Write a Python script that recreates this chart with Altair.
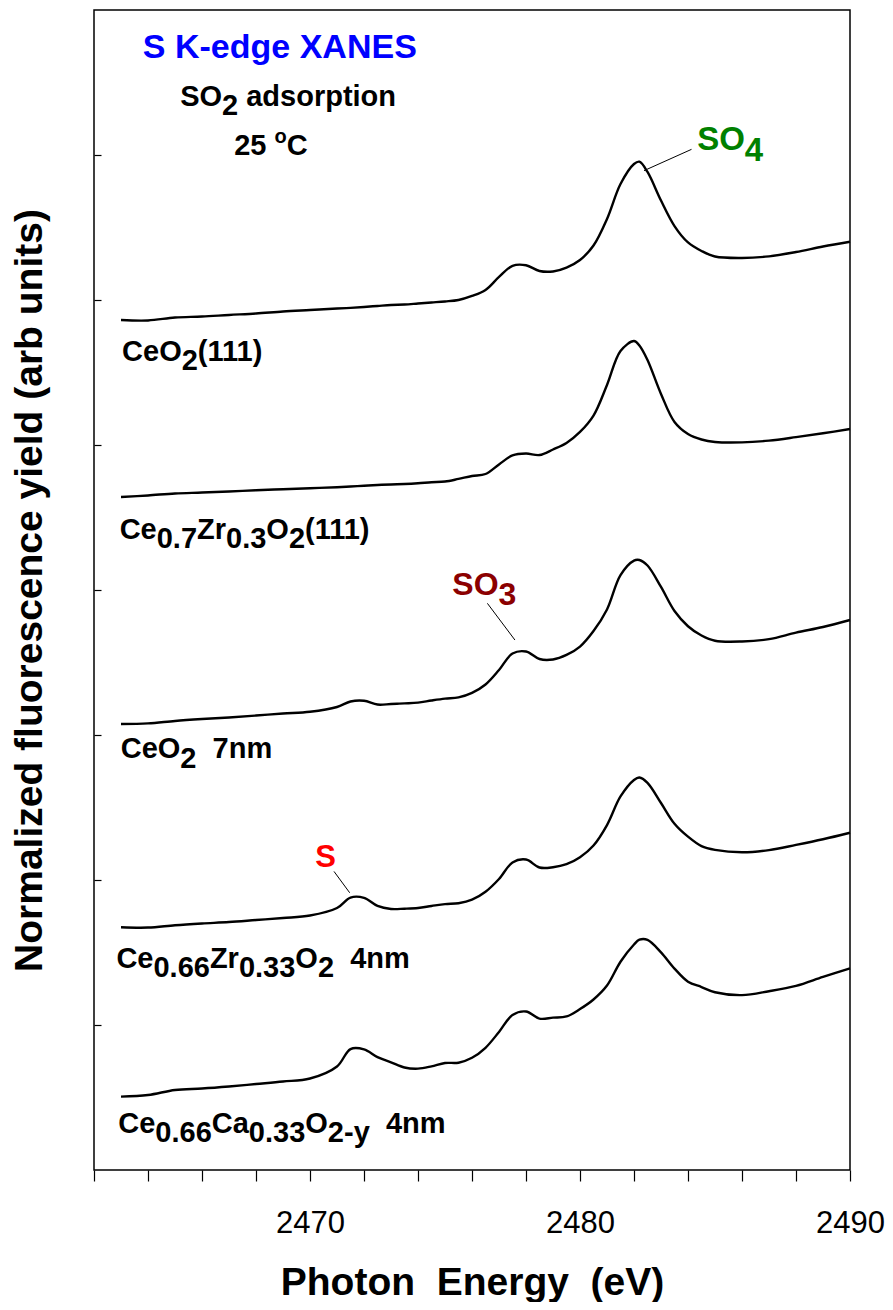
import altair as alt
import pandas as pd

FONT = "Liberation Sans, Arial, Helvetica, sans-serif"

# ---------------- data ----------------
energy = [2463, 2464, 2465, 2466, 2467, 2468, 2469, 2470, 2471, 2471.5, 2472, 2472.5,
          2473, 2473.5, 2474, 2474.5, 2475, 2475.5, 2476, 2476.5, 2477, 2477.5, 2478,
          2478.5, 2479, 2479.5, 2480, 2480.5, 2481, 2481.5, 2482, 2482.2, 2482.5, 2483,
          2483.5, 2484, 2484.5, 2485, 2486, 2487, 2488, 2489, 2490]

ceo2_111 = [5.862, 5.859, 5.879, 5.886, 5.897, 5.907, 5.921, 5.931, 5.941, 5.946, 5.952, 5.959,
            5.966, 5.969, 5.976, 5.983, 5.990, 6.000, 6.028, 6.069, 6.159, 6.236, 6.240,
            6.200, 6.197, 6.224, 6.276, 6.376, 6.559, 6.800, 6.938, 6.954, 6.883, 6.686,
            6.510, 6.397, 6.338, 6.300, 6.290, 6.301, 6.331, 6.369, 6.402]

cezr_111 = [4.641, 4.652, 4.666, 4.672, 4.679, 4.688, 4.695, 4.702, 4.709, 4.714, 4.719, 4.724,
            4.728, 4.731, 4.736, 4.743, 4.748, 4.766, 4.786, 4.800, 4.866, 4.928, 4.941,
            4.931, 4.969, 5.014, 5.090, 5.203, 5.414, 5.648, 5.717, 5.686, 5.586, 5.352,
            5.159, 5.076, 5.038, 5.021, 5.018, 5.030, 5.054, 5.081, 5.110]

ceo2_7nm = [3.076, 3.080, 3.097, 3.110, 3.121, 3.134, 3.148, 3.160, 3.193, 3.231, 3.236, 3.210,
            3.214, 3.218, 3.223, 3.238, 3.251, 3.259, 3.290, 3.348, 3.448, 3.562, 3.576,
            3.524, 3.521, 3.552, 3.610, 3.717, 3.866, 4.103, 4.203, 4.207, 4.169, 4.021,
            3.855, 3.750, 3.686, 3.650, 3.645, 3.661, 3.706, 3.745, 3.793]

cezr_4nm = [1.674, 1.672, 1.688, 1.700, 1.710, 1.724, 1.738, 1.755, 1.807, 1.879, 1.877, 1.821,
            1.800, 1.802, 1.807, 1.821, 1.834, 1.840, 1.864, 1.919, 2.007, 2.121, 2.141,
            2.086, 2.088, 2.109, 2.157, 2.238, 2.379, 2.576, 2.690, 2.707, 2.670, 2.531,
            2.388, 2.299, 2.234, 2.208, 2.191, 2.206, 2.242, 2.281, 2.326]

ceca_4nm = [0.506, 0.517, 0.552, 0.562, 0.576, 0.593, 0.610, 0.631, 0.714, 0.834, 0.832, 0.779,
            0.743, 0.707, 0.699, 0.715, 0.738, 0.740, 0.774, 0.843, 0.952, 1.069, 1.093,
            1.044, 1.051, 1.059, 1.110, 1.176, 1.272, 1.436, 1.555, 1.588, 1.587, 1.501,
            1.389, 1.299, 1.262, 1.226, 1.206, 1.233, 1.270, 1.332, 1.391]

series = {
    "CeO2(111)": ceo2_111,
    "Ce0.7Zr0.3O2(111)": cezr_111,
    "CeO2 7nm": ceo2_7nm,
    "Ce0.66Zr0.33O2 4nm": cezr_4nm,
    "Ce0.66Ca0.33O2-y 4nm": ceca_4nm,
}

x_ticks = list(range(2462, 2491, 2))
y_ticks = [1, 2, 3, 4, 5, 6, 7]

# labels: anchor energy, anchor intensity, segments (text, kind), colour, font size
# kind: n = normal, b = subscript, p = superscript
labels = [
    (2463.81, 7.666, [("S K-edge XANES", "n")], "#0000FF", 34),
    (2465.19, 7.338, [("SO", "n"), ("2", "b"), (" adsorption", "n")], "black", 29),
    (2467.19, 7.000, [("25 ", "n"), ("o", "p"), ("C", "n")], "black", 29),
    (2463.04, 5.579, [("CeO", "n"), ("2", "b"), ("(111)", "n")], "black", 29),
    (2462.95, 4.352, [("Ce", "n"), ("0.7", "b"), ("Zr", "n"), ("0.3", "b"), ("O", "n"),
                      ("2", "b"), ("(111)", "n")], "black", 29),
    (2462.99, 2.839, [("CeO", "n"), ("2", "b"), ("  7nm", "n")], "black", 29),
    (2462.83, 1.393, [("Ce", "n"), ("0.66", "b"), ("Zr", "n"), ("0.33", "b"), ("O", "n"),
                      ("2", "b"), ("  4nm", "n")], "black", 29),
    (2462.90, 0.255, [("Ce", "n"), ("0.66", "b"), ("Ca", "n"), ("0.33", "b"), ("O", "n"),
                      ("2-y", "b"), ("  4nm", "n")], "black", 29),
    (2484.34, 7.034, [("SO", "n"), ("4", "b")], "#008000", 33),
    (2475.27, 3.966, [("SO", "n"), ("3", "b")], "#8B0000", 32),
    (2470.19, 2.092, [("S", "n")], "#FF0000", 31),
]

leader_e1 = [2484.13, 2476.57, 2470.89]
leader_v1 = [7.039, 3.908, 2.059]
leader_e2 = [2482.37, 2477.59, 2471.47]
leader_v2 = [6.892, 3.655, 1.912]

# Arial/Liberation Sans Bold advance widths (per 1000 em)
W = {' ': 278, '(': 333, ')': 333, '-': 333, '.': 278, 'A': 722, 'C': 722, 'E': 667,
     'K': 722, 'N': 722, 'O': 778, 'S': 667, 'X': 667, 'Z': 611, 'a': 556, 'd': 611,
     'e': 556, 'g': 611, 'i': 278, 'm': 889, 'n': 611, 'o': 611, 'p': 611, 'r': 389,
     's': 556, 't': 333, 'y': 556}
for _d in "0123456789":
    W[_d] = 556


def text_width(t, size):
    return sum(W.get(c, 556) for c in t) * size / 1000.0


# ---------------- chart ----------------
rows = []
for name, vals in series.items():
    for e, v in zip(energy, vals):
        rows.append({"sample": name, "energy": e, "value": v})
df = pd.DataFrame(rows)

xscale = alt.Scale(domain=[2462, 2490], nice=False, zero=False)
yscale = alt.Scale(domain=[0, 8], nice=False, zero=False)

NB = "\u00a0"
xaxis = alt.Axis(
    values=x_ticks, format="d",
    labelExpr="datum.value % 10 === 0 ? datum.label : ''",
    labelFlush=False, labelFont=FONT, labelFontSize=31, labelColor="black",
    labelBaseline="alphabetic", labelPadding=51,
    domain=False, grid=False, ticks=True, tickSize=11, tickColor="black", tickWidth=1.2,
    title="Photon" + NB + " Energy" + NB + " (eV)", titleFont=FONT, titleFontSize=39,
    titleFontWeight="bold",
    titleColor="black", titleBaseline="alphabetic", titleAlign="center",
    titleX=378, titleY=124,
)
yaxis = alt.Axis(
    values=y_ticks, labels=False, offset=-7,
    domain=False, grid=False, ticks=True, tickSize=7, tickColor="black", tickWidth=1.2,
    title="Normalized fluorescence yield (arb units)", titleFont=FONT, titleFontSize=39,
    titleFontWeight="bold", titleColor="black", titleAngle=270,
    titleBaseline="alphabetic", titleAlign="center", titleX=-60, titleY=580,
)

X = alt.X("energy:Q", scale=xscale, axis=xaxis)
Y = alt.Y("value:Q", scale=yscale, axis=yaxis)

lines = alt.Chart(df).mark_line(color="black", strokeWidth=2.4,
                                interpolate="catmull-rom").encode(
    x=X, y=Y, detail="sample:N"
)

layers = [lines]

ldf = pd.DataFrame({"energy": leader_e1, "value": leader_v1,
                    "energy2": leader_e2, "value2": leader_v2})
leaders = alt.Chart(ldf).mark_rule(color="black", strokeWidth=1).encode(
    x=X, y=Y, x2="energy2:Q", y2="value2:Q"
)
layers.append(leaders)

for ex, vy, segs, color, fs in labels:
    off = 0.0
    for txt, kind in segs:
        size = fs if kind != "p" else round(fs * 0.69)
        if kind == "n":
            dy = 0
        elif kind == "b":
            dy = 0.32 * fs
        else:
            dy = -0.40 * fs
        lead = len(txt) - len(txt.lstrip(" "))
        shown = txt.strip(" ")
        if shown:
            tdf = pd.DataFrame({"energy": [ex], "value": [vy], "t": [shown]})
            layers.append(
                alt.Chart(tdf).mark_text(
                    align="left", baseline="alphabetic",
                    dx=off + lead * W[" "] * size / 1000.0, dy=dy,
                    fontSize=size, fontWeight="bold", font=FONT, color=color,
                ).encode(x=X, y=Y, text="t:N")
            )
        off += text_width(txt, size)

chart = alt.layer(*layers).properties(
    width=756, height=1160,
    autosize=alt.AutoSizeParams(type="none"),
    padding={"left": 86, "top": 2, "right": 35, "bottom": 132},
    background="white",
).configure_view(stroke="black", strokeWidth=1.5)

chart.save("out.html", embed_options={"renderer": "svg", "actions": False})
